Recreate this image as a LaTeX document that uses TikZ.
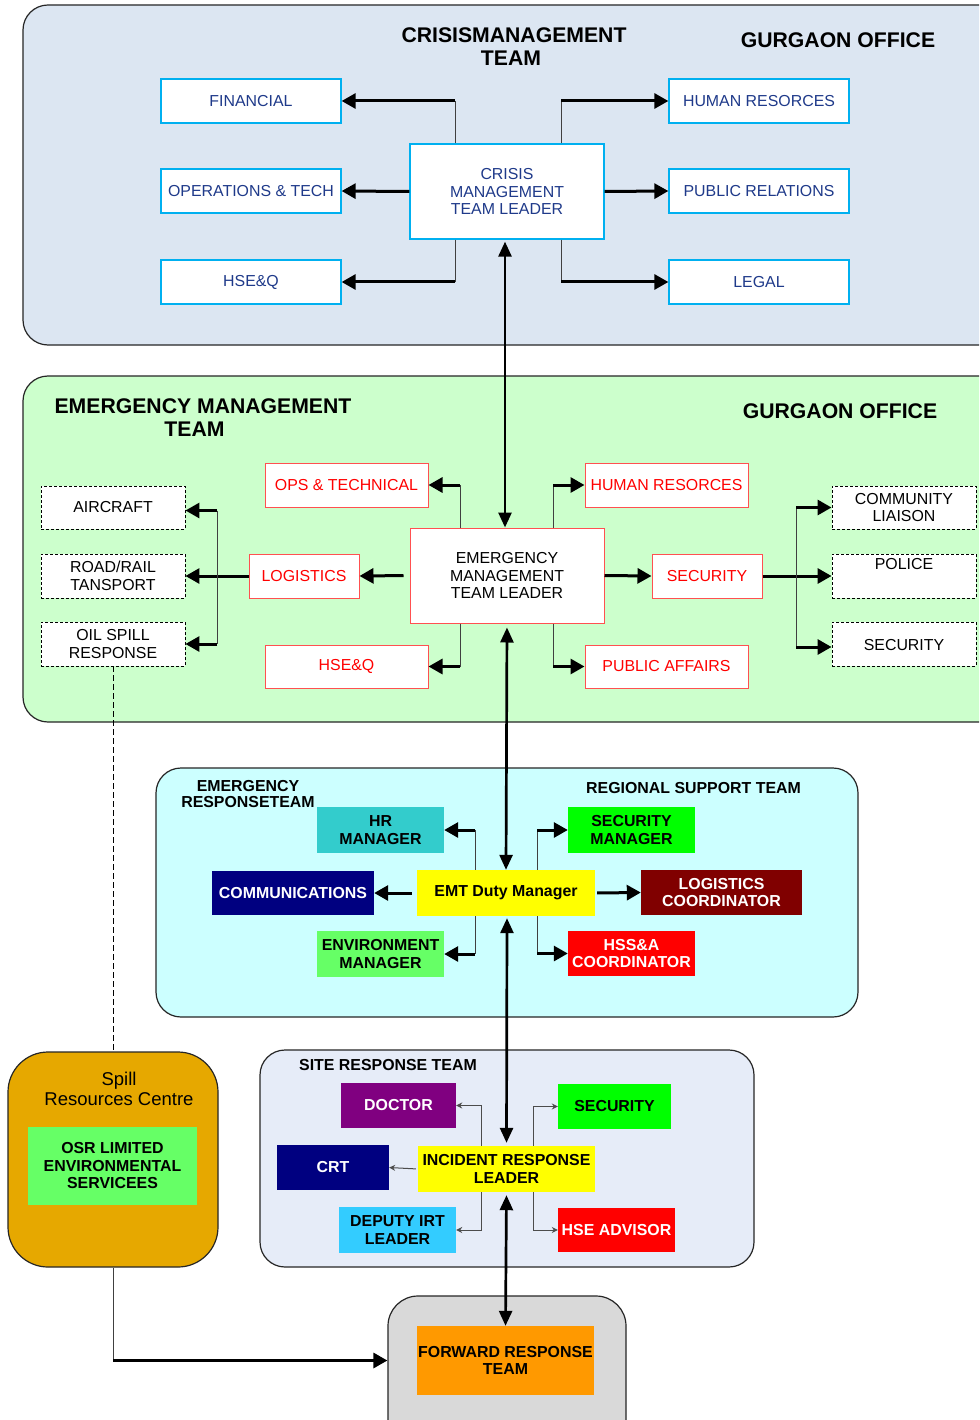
\documentclass[tikz,border=0pt]{standalone}
\usepackage{fontspec}
\setmainfont{Liberation Sans}
\usetikzlibrary{arrows.meta}
\definecolor{topfill}{HTML}{DCE6F2}
\definecolor{cyanb}{HTML}{00B0F0}
\definecolor{navytxt}{HTML}{1F3A8A}
\definecolor{emtfill}{HTML}{CCFFCC}
\definecolor{redb}{HTML}{FF5050}
\definecolor{cyanfill}{HTML}{CCFFFF}
\definecolor{sitefill}{HTML}{E6ECF8}
\definecolor{hrteal}{HTML}{33CCCC}
\definecolor{navyf}{HTML}{000080}
\definecolor{envgreen}{HTML}{66FF66}
\definecolor{yell}{HTML}{FFFF00}
\definecolor{bgreen}{HTML}{00FF00}
\definecolor{dred}{HTML}{800000}
\definecolor{rred}{HTML}{FF0000}
\definecolor{purp}{HTML}{800080}
\definecolor{depblue}{HTML}{33CCFF}
\definecolor{goldf}{HTML}{E6A800}
\definecolor{fwdgray}{HTML}{D9D9D9}
\definecolor{orangef}{HTML}{FF9900}
\newcommand\fsz{\fontsize{15.9}{17.5}\selectfont}
\newcommand\fbig{\fontsize{21.2}{23}\selectfont\bfseries}
\begin{document}
\begin{tikzpicture}[x=1pt,y=-1pt,
  panel/.style={draw=black!85, line width=1.2pt, rounded corners=25pt},
  sz/.style 2 args={minimum width=#1pt, minimum height=#2pt},
  base/.style={inner sep=0pt, align=center, font=\fsz},
  cbox/.style={base, draw=cyanb, line width=1.3pt, fill=white, text=navytxt},
  rbox/.style={base, draw=redb, line width=1pt, fill=white, text=rred},
  dbox/.style={base, draw=black, densely dashed, line width=0.9pt, fill=white, text=black},
  wbox/.style={base, draw=redb, line width=1pt, fill=white, text=black},
  fbox/.style={base, font=\fsz\bfseries},
  ttl/.style={align=center, inner sep=0pt, font=\fbig},
  sttl/.style={align=center, inner sep=0pt, font=\fontsize{15.9}{16}\selectfont\bfseries},
  thinl/.style={line width=1pt, draw=black!75},
  big/.style={line width=3pt, -{Triangle[length=14pt,width=15pt]}},
  longarr/.style={line width=2.7pt, {Triangle[length=15pt,width=13pt]}-{Triangle[length=15pt,width=13pt]}},
  smallc/.style={line width=1pt, draw=black!70, -{Stealth[length=6pt,width=6pt]}}
]
\path[use as bounding box, clip] (0,0) rectangle (979,1420);
\fill[white] (0,0) rectangle (979,1420);

% ---------------- Crisis management team ----------------
\draw[panel, fill=topfill] (23,5) rectangle (1010,345);
\node[ttl] (t1) at (514,47) {CRISISMANAGEMENT\\TEAM\hspace*{6pt}};
\node[ttl] (g1) at (838,40) {GURGAON OFFICE};
\node[cbox, sz={180}{44}] (fin) at (251,101) {FINANCIAL};
\node[cbox, sz={180}{44}] (ops) at (251,191) {OPERATIONS \& TECH};
\node[cbox, sz={180}{44}] (hse1) at (251,282) {HSE\&Q};
\node[cbox, sz={180}{44}] (hr1) at (759,101) {HUMAN RESORCES};
\node[cbox, sz={180}{44}] (pr) at (759,191) {PUBLIC RELATIONS};
\node[cbox, sz={180}{44}] (legal) at (759,282) {LEGAL};
\node[cbox, sz={194}{95}] (cml) at (507,191.5) {CRISIS\\MANAGEMENT\\TEAM LEADER};
\coordinate (cL) at (455,0);
\coordinate (cR) at (561,0);
\draw[thinl] (cL |- cml.north) -- (cL |- fin.east);
\draw[big] (cL |- fin.east) -- (fin.east);
\draw[thinl] (cR |- cml.north) -- (cR |- hr1.west);
\draw[big] (cR |- hr1.west) -- (hr1.west);
\draw[thinl] (cL |- cml.south) -- (cL |- hse1.east);
\draw[big] (cL |- hse1.east) -- (hse1.east);
\draw[thinl] (cR |- cml.south) -- (cR |- legal.west);
\draw[big] (cR |- legal.west) -- (legal.west);
\draw[big] (cml.west) -- (ops.east);
\draw[big] (cml.east) -- (pr.west);

% ---------------- Emergency management team ----------------
\draw[panel, fill=emtfill] (23,376) rectangle (1010,722);
\node[ttl] (t2) at (203,418) {EMERGENCY MANAGEMENT\\TEAM\hspace*{17pt}};
\node[ttl] (g2) at (840,411) {GURGAON OFFICE};
\node[rbox, sz={163}{44}] (ops2) at (346.5,485) {OPS \& TECHNICAL};
\node[rbox, sz={110}{44}] (log) at (304,576) {LOGISTICS};
\node[rbox, sz={163}{43}] (hse2) at (346.5,666.5) {HSE\&Q};
\node[rbox, sz={163}{44}] (hr2) at (666.5,485) {HUMAN RESORCES};
\node[rbox, sz={110}{44}] (sec2) at (707,576) {SECURITY};
\node[rbox, sz={163}{43}] (pa) at (666.5,666.5) {PUBLIC AFFAIRS};
\node[wbox, sz={194}{95}] (eml) at (507,575.5) {EMERGENCY\\MANAGEMENT\\TEAM LEADER};
\node[dbox, sz={144}{43}] (air) at (113,507.5) {AIRCRAFT};
\node[dbox, sz={144}{44}] (road) at (113,576) {ROAD/RAIL\\TANSPORT};
\node[dbox, sz={144}{44}] (oil) at (113,644) {OIL SPILL\\RESPONSE};
\node[dbox, sz={144}{43}] (comm) at (904,507.5) {COMMUNITY\\LIAISON};
\node[dbox, sz={144}{44}] (pol) at (904,576) {POLICE\\[6pt]};
\node[dbox, sz={144}{44}] (sec3) at (904,644) {\\[-4pt]SECURITY};
\coordinate (eL) at (460,0);
\coordinate (eR) at (553,0);
\draw[thinl] (eL |- eml.north) -- (eL |- ops2.east);
\draw[big] (eL |- ops2.east) -- (ops2.east);
\draw[thinl] (eR |- eml.north) -- (eR |- hr2.west);
\draw[big] (eR |- hr2.west) -- (hr2.west);
\draw[thinl] (eL |- eml.south) -- (eL |- hse2.east);
\draw[big] (eL |- hse2.east) -- (hse2.east);
\draw[thinl] (eR |- eml.south) -- (eR |- pa.west);
\draw[big] (eR |- pa.west) -- (pa.west);
\draw[big, shorten <=6pt] (eml.west) -- (log.east);
\draw[big] (eml.east) -- (sec2.west);
\draw[big] (log.west) -- (road.east);
\coordinate (lv) at (217,0);
\draw[thinl] ([yshift=-3pt]lv |- air.east) -- (lv |- oil.east);
\draw[big] ([yshift=-3pt]lv |- air.east) -- ([yshift=-3pt]air.east);
\draw[big] (lv |- oil.east) -- (oil.east);
\draw[big] (sec2.east) -- (pol.west);
\coordinate (rv) at (796,0);
\draw[thinl] (rv |- comm.west) -- ([yshift=-3pt]rv |- sec3.west);
\draw[big] (rv |- comm.west) -- (comm.west);
\draw[big] ([yshift=-3pt]rv |- sec3.west) -- ([yshift=-3pt]sec3.west);

% long arrow CMT <-> EMT
\draw[longarr, shorten <=2pt] ([xshift=-2pt]cml.south) -- ([xshift=-2pt]eml.north);

% ---------------- Emergency response team ----------------
\draw[panel, fill=cyanfill] (156,768) rectangle (858,1017);
\node[sttl] (t3) at (248,794) {EMERGENCY\\RESPONSETEAM};
\node[sttl] (t4) at (693.5,788) {REGIONAL SUPPORT TEAM};
\node[fbox, sz={127}{46}, fill=hrteal, text=black] (hrm) at (380.5,830) {HR\\MANAGER};
\node[fbox, sz={162}{44}, fill=navyf, text=white] (commn) at (293,893) {COMMUNICATIONS};
\node[fbox, sz={127}{46}, fill=envgreen, text=black] (env) at (380.5,954) {ENVIRONMENT\\MANAGER};
\node[fbox, sz={178}{46}, fill=yell, text=black] (duty) at (506,893) {EMT Duty Manager};
\node[fbox, sz={127}{46}, fill=bgreen, text=black] (secm) at (631.5,830) {SECURITY\\MANAGER};
\node[fbox, sz={161}{45}, fill=dred, text=white] (logc) at (721.5,892.5) {LOGISTICS\\COORDINATOR};
\node[fbox, sz={127}{45}, fill=rred, text=white] (hss) at (631.5,953.5) {HSS\&A\\COORDINATOR};
\coordinate (dL) at (475,0);
\coordinate (dR) at (537,0);
\draw[thinl] (dL |- duty.north) -- (dL |- hrm.east);
\draw[big] (dL |- hrm.east) -- (hrm.east);
\draw[thinl] (dR |- duty.north) -- (dR |- secm.west);
\draw[big] (dR |- secm.west) -- (secm.west);
\draw[thinl] (dL |- duty.south) -- (dL |- env.east);
\draw[big] (dL |- env.east) -- (env.east);
\draw[thinl] (dR |- duty.south) -- (dR |- hss.west);
\draw[big] (dR |- hss.west) -- (hss.west);
\draw[big, shorten <=5pt] (duty.west) -- (commn.east);
\draw[big, shorten <=2pt] (duty.east) -- (logc.west);

% long arrow EMT <-> duty
\draw[longarr, shorten <=4pt] (eml.south) -- (duty.north);

% ---------------- Site response team ----------------
\draw[panel, fill=sitefill] (260,1050) rectangle (754,1267);
\node[sttl] (t5) at (388,1065) {SITE RESPONSE TEAM};
\node[fbox, sz={115}{45}, fill=purp, text=white] (doc) at (398.5,1105.5) {DOCTOR};
\node[fbox, sz={112}{45}, fill=navyf, text=white] (crt) at (333,1167.5) {CRT};
\node[fbox, sz={117}{46}, fill=depblue, text=black] (dep) at (397.5,1230) {DEPUTY IRT\\LEADER};
\node[fbox, sz={177}{46}, fill=yell, text=black] (irl) at (506.5,1169) {INCIDENT RESPONSE\\LEADER};
\node[fbox, sz={113}{45}, fill=bgreen, text=black] (sec4) at (614.5,1106.5) {SECURITY};
\node[fbox, sz={117}{44}, fill=rred, text=white] (hsea) at (616.5,1230) {HSE ADVISOR};
\coordinate (sL) at (481,0);
\coordinate (sR) at (533,0);
\draw[smallc] (sL |- irl.north) |- (doc.east);
\draw[smallc] (sR |- irl.north) |- (sec4.west);
\draw[smallc] (sL |- irl.south) |- (dep.east);
\draw[smallc] (sR |- irl.south) |- (hsea.west);
\draw[smallc, shorten <=2pt] (irl.west) -- (crt.east);

% long arrow duty <-> IRL
\draw[longarr, shorten <=2pt, shorten >=3pt] ([xshift=1pt]duty.south) -- (irl.north);

% ---------------- Spill resources centre ----------------
\node[draw=black!85, line width=1.2pt, fill=goldf, rounded corners=40pt, sz={210}{215}] (spill) at (113,1159.5) {};
\node[align=center, inner sep=0pt, font=\fontsize{18.5}{20}\selectfont] (spt) at (119,1089) {Spill\\Resources Centre};
\node[fbox, sz={169}{78}, fill=envgreen, text=black] (osr) at (112.5,1166) {OSR LIMITED\\ENVIRONMENTAL\\SERVICEES};
\draw[line width=1pt, dash pattern=on 6pt off 3pt] (oil.south) -- (spill.north);

% ---------------- Forward response ----------------
\node[draw=black!85, line width=1.2pt, fill=fwdgray, rounded corners=30pt, sz={238}{168}] (fwdp) at (507,1380) {};
\node[fbox, sz={177}{69}, fill=orangef, text=black] (fwd) at (505.5,1360.5) {FORWARD RESPONSE\\TEAM};
\draw[longarr, shorten <=3pt] (irl.south) -- (fwd.north);
\draw[thinl] (spill.south) -- (spill.south |- fwd.west);
\draw[big] (spill.south |- fwd.west) -- (fwdp.west |- fwd.west);
\end{tikzpicture}
\end{document}
